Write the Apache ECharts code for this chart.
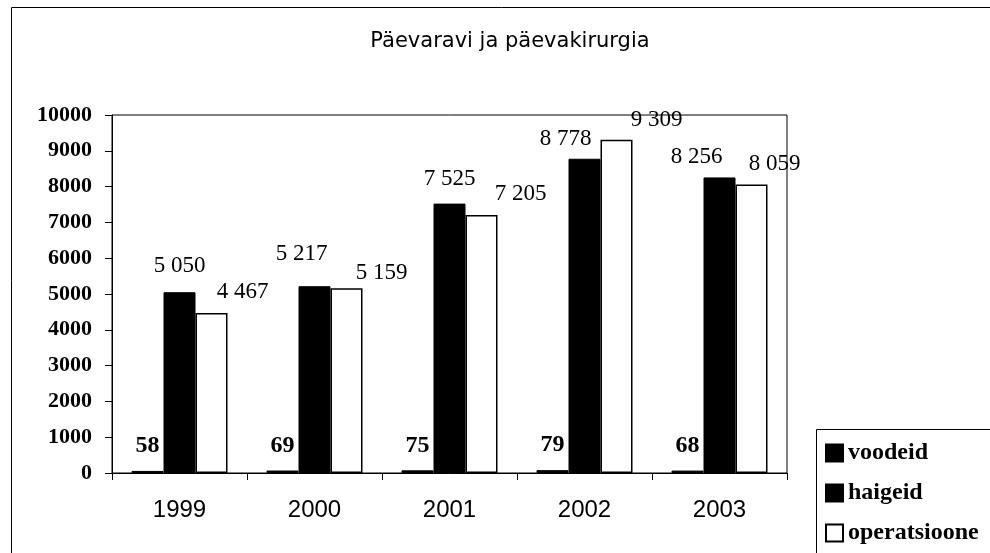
<!DOCTYPE html>
<html>
<head>
<meta charset="utf-8">
<script src="https://cdn.jsdelivr.net/npm/echarts@6/dist/echarts.min.js"></script>
<style>
html,body{margin:0;padding:0;background:#fff;}
#chart{width:990px;height:553px;}
</style>
</head>
<body>
<div id="chart"></div>
<script>
const title = 'Päevaravi ja päevakirurgia';
const years = ['1999', '2000', '2001', '2002', '2003'];
const seriesNames = ['voodeid', 'haigeid', 'operatsioone'];
const voodeid = [58, 69, 75, 79, 68];
const haigeid = [5050, 5217, 7525, 8778, 8256];
const operatsioone = [4467, 5159, 7205, 9309, 8059];
const yTicks = [0, 1000, 2000, 3000, 4000, 5000, 6000, 7000, 8000, 9000, 10000];

// label nudges (layout only, px): [dx, dy] per category, as placed in the reference
const nudgeVoodeid = [[0,-2],[0,-2],[0,-2],[0,-2],[0,-2]];
const nudgeHaigeid = [[0,-4],[-13,-10],[0,-2],[-19,3],[-23,2]];
const nudgeOperats = [[31,1],[35,7],[39,1],[40,3],[23,2]];

function fmt(v){ return String(v).replace(/\B(?=(\d{3})+(?!\d))/g, ' '); }
function items(vals, nudges){
  return vals.map((v,i)=>({value:v, label:{offset:nudges[i]}}));
}

const chart = echarts.init(document.getElementById('chart'), null, {renderer:'canvas'});
const serifBold = {fontFamily:'"Liberation Serif","Times New Roman",serif', fontWeight:'bold', color:'#000'};
const serifReg = {fontFamily:'"Liberation Serif","Times New Roman",serif', fontWeight:'normal', color:'#000'};

chart.setOption({
  animation:false,
  backgroundColor:'#fff',
  title:{
    text:title, left:505, textAlign:'center', top:26,
    textStyle:{fontFamily:'"DejaVu Sans",sans-serif', fontWeight:'normal', fontSize:21, color:'#000'}
  },
  graphic:[
    {type:'rect', left:9, top:5, shape:{width:1000, height:600}, style:{fill:'none', stroke:'#000', lineWidth:1}, silent:true},
    {type:'rect', left:816, top:429, shape:{width:200, height:200}, style:{fill:'#fff', stroke:'#000', lineWidth:1}, silent:true, z:-1}
  ],
  legend:{
    orient:'vertical', left:825, top:441, padding:0,
    itemWidth:17, itemHeight:17, itemGap:16, icon:'rect',
    data:seriesNames,
    textStyle:Object.assign({fontSize:24, lineHeight:24}, serifBold),
    z:10
  },
  grid:{left:112, right:203, top:115, bottom:80, show:true, borderColor:'#000', borderWidth:1, containLabel:false},
  xAxis:{
    type:'category', data:years,
    axisLine:{lineStyle:{color:'#000', width:1}},
    axisTick:{show:true, length:7, lineStyle:{color:'#000'}},
    axisLabel:{margin:25, fontFamily:'"Liberation Sans",Arial,sans-serif', fontSize:24, color:'#000'},
    splitLine:{show:false}
  },
  yAxis:{
    type:'value', min:yTicks[0], max:yTicks[yTicks.length-1], interval:1000,
    axisLine:{show:true, lineStyle:{color:'#000', width:1}},
    axisTick:{show:true, length:7, lineStyle:{color:'#000'}},
    axisLabel:Object.assign({margin:20, fontSize:22, formatter:v=>String(v)}, serifBold),
    splitLine:{show:false}
  },
  series:[
    {
      name:seriesNames[0], type:'bar', data:items(voodeid, nudgeVoodeid), barWidth:32, barGap:'0%',
      itemStyle:{color:'#000', borderColor:'#000', borderWidth:1},
      label:Object.assign({show:true, position:'top', distance:11, fontSize:24, formatter:p=>fmt(p.value)}, serifBold)
    },
    {
      name:seriesNames[1], type:'bar', data:items(haigeid, nudgeHaigeid), barWidth:32, barGap:'0%',
      itemStyle:{color:'#000', borderColor:'#000', borderWidth:1},
      label:Object.assign({show:true, position:'top', distance:11, fontSize:23, formatter:p=>fmt(p.value)}, serifReg)
    },
    {
      name:seriesNames[2], type:'bar', data:items(operatsioone, nudgeOperats), barWidth:32, barGap:'0%',
      itemStyle:{color:'#fff', borderColor:'#000', borderWidth:1.5},
      label:Object.assign({show:true, position:'top', distance:11, fontSize:23, formatter:p=>fmt(p.value)}, serifReg)
    }
  ]
});
</script>
</body>
</html>
